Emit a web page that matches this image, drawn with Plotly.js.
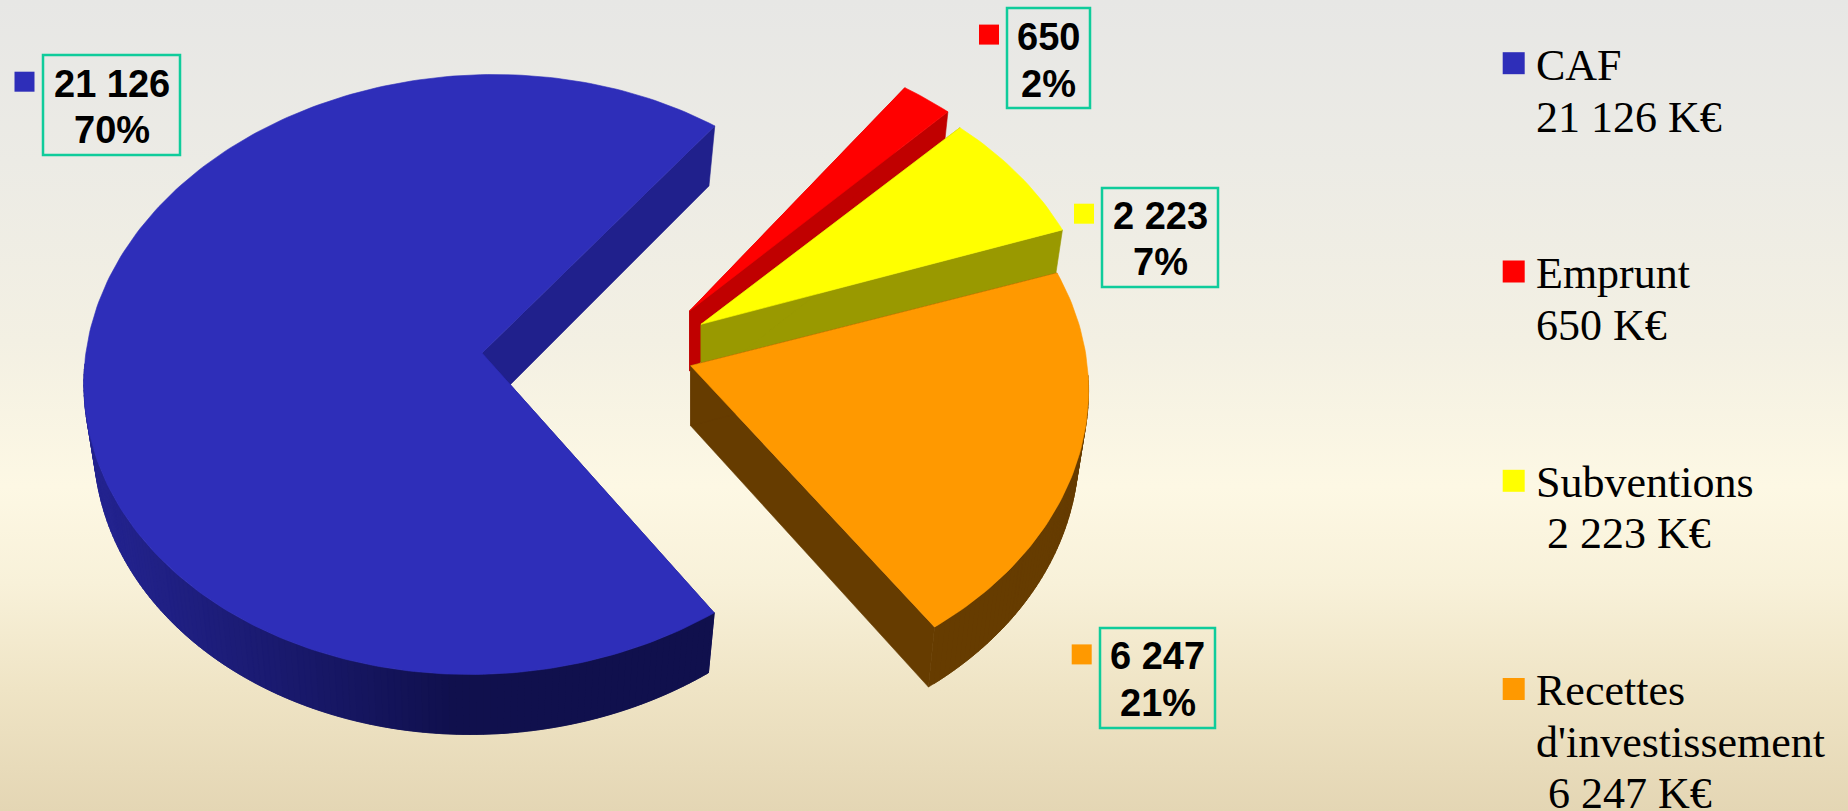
<!DOCTYPE html>
<html>
<head>
<meta charset="utf-8">
<script src="https://cdn.plot.ly/plotly-3.0.1.min.js"></script>
<style>
html,body{margin:0;padding:0;width:1848px;height:811px;overflow:hidden;
background:linear-gradient(to bottom,#e7e7e5 0%,#ecebe5 20%,#f3f0e3 42%,#fdf8e4 60%,#f8f1d9 72%,#efe4c5 85%,#e4d6b4 100%);}
#chart{width:1848px;height:811px;}
</style>
</head>
<body>
<div id="chart"></div>
<script>
// ---- data ----
var categories = ["CAF", "Emprunt", "Subventions", "Recettes d'investissement"];
var values = [21126, 650, 2223, 6247];
var valueLabels = ["21 126", "650", "2 223", "6 247"];
var legendLines = [["CAF", "21 126 K€"], ["Emprunt", "650 K€"], ["Subventions", "2 223 K€"], ["Recettes", "d'investissement", "6 247 K€"]];

// ---- styles ----
var topColors = ["#2e2eb9", "#ff0000", "#ffff00", "#ff9900"];
var wallColors = ["#20208c", "#c00000", "#999900", "#663c00"];
var boxColor = "#0fcc9b";

// ---- layout of the exploded slices (order matches categories) ----
var apexX = [482, 689.5, 701, 690.6];
var apexY = [353, 311, 324.3, 365.7];
var rimCy = [374.5, 340, 355.5, 390];   // ellipse centre height of each slice
var turn = [1.7, 3, 3.8, 2.5];          // small perspective rotation, degrees
var trim = [0, 0, 0.9, -0.4];           // perspective narrowing at each end, degrees
var tilt = [12, 0, 0, 0];               // perspective lean of the rim
var radiusX = 398, radiusY = 300, depth = 60, bottomShrink = 0.975;
var startDeg = 305.7;                   // first slice starts here, going clockwise

// label boxes: left, top, right, bottom
var boxLeft = [42, 1006, 1101, 1099], boxTop = [54, 7, 187, 627], boxRight = [181, 1091, 1219, 1216], boxBottom = [156, 109, 288, 729];
var labelBase = [[96.7, 143.3], [50, 96.7], [229.3, 275.3], [669.3, 716]];
var keyX = [24.5, 989, 1084, 1081.7], keyY = [81.7, 34.6, 213.7, 654.4];
var legendKeyX = 1513.7, legendKeyY = [63.2, 271.5, 480.8, 689];
var legendTextX = [[1535, 1535], [1535, 1535], [1535, 1545.5], [1535, 1535, 1546.5]];
var legendBase = [[80.5, 132.7], [288.5, 340.5], [497, 548.5], [705.5, 757, 808.5]];

var total = values.reduce(function (a, b) { return a + b; }, 0);
var traces = [];

function polygon(xs, ys, color) {
  traces.push({
    type: "scatter", mode: "lines", x: xs, y: ys, fill: "toself", fillcolor: color,
    line: { color: color, width: 0.6 }, hoverinfo: "skip", showlegend: false
  });
}
function mix(c1, c2, t) {
  t = Math.max(0, Math.min(1, t));
  var r = c1.map(function (v, i) { return Math.round(v + (c2[i] - v) * t); });
  return "rgb(" + r.join(",") + ")";
}

// angle ranges from the values
var spans = [], cursor = startDeg;
values.forEach(function (v, i) {
  var sweep = v / total * 360;
  spans.push([cursor - sweep + turn[i] + trim[i], cursor + turn[i] - trim[i]]);
  cursor -= sweep;
});

function rim(i, deg) {
  var t = deg * Math.PI / 180;
  return [apexX[i] + radiusX * Math.cos(t) + tilt[i] * Math.sin(t), rimCy[i] - radiusY * Math.sin(t)];
}
function low(i, p) {
  return [apexX[i] + (p[0] - apexX[i]) * bottomShrink, p[1] + depth];
}

// paint order: back to front
[0, 1, 2, 3].forEach(function (i) {
  var a0 = spans[i][0], a1 = spans[i][1];
  var angs = [];
  for (var d = a0; d < a1; d += 1) angs.push(d);
  angs.push(a1);
  var pts = angs.map(function (d) { return rim(i, d); });
  var apex = [apexX[i], apexY[i]], apexLow = [apexX[i], apexY[i] + depth];

  // straight walls
  [pts[0], pts[pts.length - 1]].forEach(function (p) {
    var q = low(i, p);
    polygon([apex[0], p[0], q[0], apexLow[0], apex[0]], [apex[1], p[1], q[1], apexLow[1], apex[1]], wallColors[i]);
  });

  // curved wall, front half only; strips overlap so no seams show
  for (var k = 0; k < angs.length - 1; k++) {
    var s = Math.sin(angs[k] * Math.PI / 180), s2 = Math.sin(angs[k + 1] * Math.PI / 180);
    if (s > 0.02 && s2 > 0.02) continue;
    var p = pts[k], n = pts[Math.min(k + 2, pts.length - 1)], pl = low(i, p), nl = low(i, n);
    var col = wallColors[i];
    if (i === 0) col = mix([35, 35, 143], [16, 16, 77], (p[0] - 100) / 350);
    polygon([p[0], n[0], nl[0], pl[0], p[0]], [p[1], n[1], nl[1], pl[1], p[1]], col);
  }

  // top face
  polygon([apex[0]].concat(pts.map(function (p) { return p[0]; }), [apex[0]]),
          [apex[1]].concat(pts.map(function (p) { return p[1]; }), [apex[1]]), topColors[i]);
});

// square keys beside the value boxes
traces.push({
  type: "scatter", mode: "markers", x: keyX, y: keyY,
  marker: { symbol: "square", size: 20, color: topColors, line: { width: 0 } },
  hoverinfo: "skip", showlegend: false
});
// legend keys
traces.push({
  type: "scatter", mode: "markers", x: categories.map(function () { return legendKeyX; }), y: legendKeyY,
  marker: { symbol: "square", size: 22, color: topColors, line: { width: 0 } },
  hoverinfo: "skip", showlegend: false
});

var annotations = [], shapes = [];
values.forEach(function (v, i) {
  shapes.push({
    type: "rect", xref: "x", yref: "y", x0: boxLeft[i] + 1, x1: boxRight[i] - 1, y0: boxTop[i] + 1, y1: boxBottom[i] - 1,
    line: { color: boxColor, width: 2.5 }, fillcolor: "rgba(0,0,0,0)"
  });
  [valueLabels[i], Math.round(v / total * 100) + "%"].forEach(function (t, j) {
    annotations.push({
      xref: "x", yref: "y", x: (boxLeft[i] + boxRight[i]) / 2, y: labelBase[i][j] - 13,
      xanchor: "center", yanchor: "middle", showarrow: false, borderpad: 0,
      text: "<b>" + t + "</b>",
      font: { family: "Liberation Sans, Arial, sans-serif", size: 38, color: "#000" }
    });
  });
});
legendLines.forEach(function (lines, i) {
  lines.forEach(function (line, j) {
    annotations.push({
      xref: "x", yref: "y", x: legendTextX[i][j], y: legendBase[i][j] - 15,
      xanchor: "left", yanchor: "middle", showarrow: false, borderpad: 0,
      text: line, font: { family: "Liberation Serif, Times New Roman, serif", size: 44, color: "#000" }
    });
  });
});

Plotly.newPlot("chart", traces, {
  width: 1848, height: 811,
  margin: { l: 0, r: 0, t: 0, b: 0, pad: 0 },
  paper_bgcolor: "rgba(0,0,0,0)", plot_bgcolor: "rgba(0,0,0,0)",
  xaxis: { range: [0, 1848], visible: false, fixedrange: true },
  yaxis: { range: [811, 0], visible: false, fixedrange: true },
  showlegend: false, hovermode: false,
  shapes: shapes,
  annotations: annotations
}, { displayModeBar: false, staticPlot: true });
</script>
</body>
</html>
